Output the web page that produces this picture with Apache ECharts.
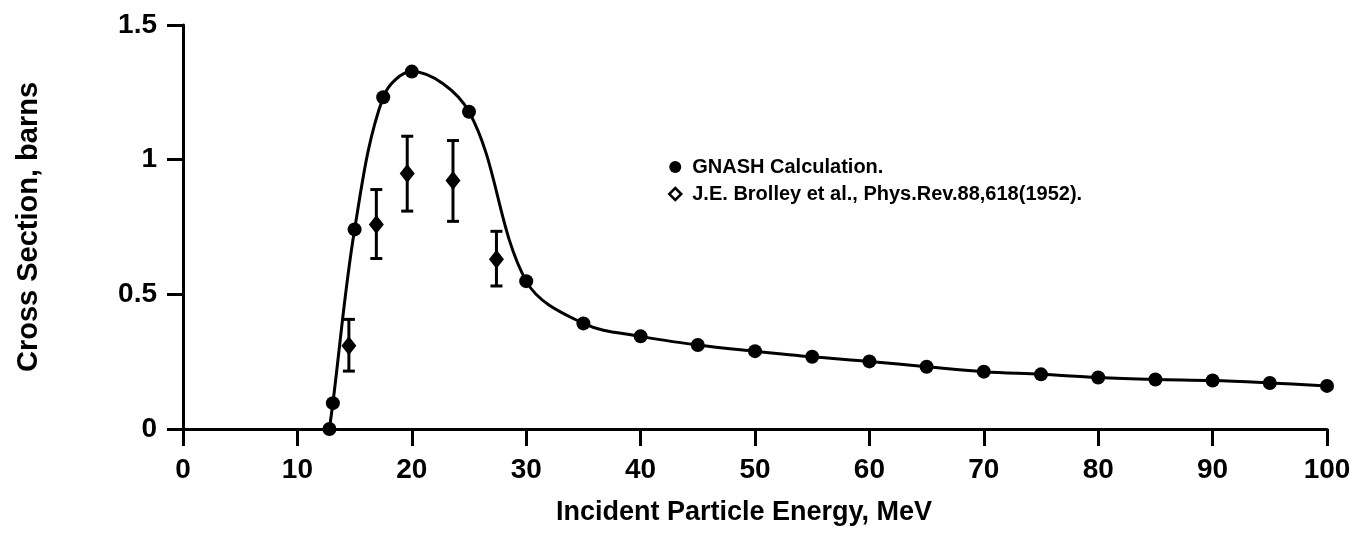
<!DOCTYPE html>
<html>
<head>
<meta charset="utf-8">
<script src="https://cdn.jsdelivr.net/npm/echarts@6/dist/echarts.min.js"></script>
<style>
  html, body { margin: 0; padding: 0; background: #fff; }
  #chart { width: 1363px; height: 534px; }
</style>
</head>
<body>
<div id="chart"></div>
<script>
// GNASH calculation (points on the curve), energy in MeV, cross section in barns
const gnashEnergy = [12.8, 13.1, 15, 17.5, 20, 25, 30, 35, 40, 45, 50, 55, 60, 65, 70, 75, 80, 85, 90, 95, 100]
const gnashSigma = [0, 0.096, 0.741, 1.232, 1.327, 1.178, 0.549, 0.392, 0.344, 0.312, 0.289, 0.268, 0.251, 0.231, 0.213, 0.203, 0.191, 0.184, 0.18, 0.171, 0.16]

// J.E. Brolley et al. measurements with error bars
const expEnergy = [14.5, 16.9, 19.6, 23.6, 27.4]
const expSigma = [0.309, 0.759, 0.949, 0.923, 0.63]
const expLow = [0.215, 0.633, 0.809, 0.771, 0.531]
const expHigh = [0.407, 0.889, 1.087, 1.071, 0.734]

const xTicks = [0, 10, 20, 30, 40, 50, 60, 70, 80, 90, 100]
const yTicks = [0, 0.5, 1, 1.5]

const nameGnash = 'GNASH Calculation.'
const nameExp = 'J.E. Brolley et al., Phys.Rev.88,618(1952).'

const font = 'Liberation Sans'
const chart = echarts.init(document.getElementById('chart'))

const option = {
  backgroundColor: '#fff',
  animation: false,
  grid: { left: 183, right: 36, top: 25, bottom: 105 },
  legend: {
    orient: 'vertical',
    left: 663,
    top: 152,
    itemGap: 7,
    itemWidth: 12,
    itemHeight: 12,
    textStyle: {
      fontFamily: font, fontWeight: 'bold', fontSize: 20, lineHeight: 20, color: '#000',
      padding: [0, 0, 0, 6]
    },
    data: [
      { name: nameGnash, icon: 'circle', itemStyle: { color: '#000' } },
      { name: nameExp, icon: 'diamond', itemStyle: { color: '#fff', borderColor: '#000', borderWidth: 2.5 } }
    ]
  },
  xAxis: {
    type: 'value',
    min: xTicks[0],
    max: xTicks[xTicks.length - 1],
    interval: 10,
    name: 'Incident Particle Energy, MeV',
    nameLocation: 'middle',
    nameGap: 70,
    nameTextStyle: { fontFamily: font, fontWeight: 'bold', fontSize: 27, color: '#000', padding: [0, 22, 0, 0] },
    axisLine: { lineStyle: { color: '#000', width: 3 } },
    axisTick: { length: 17, lineStyle: { color: '#000', width: 3 } },
    axisLabel: { fontFamily: font, fontWeight: 'bold', fontSize: 28, color: '#000', margin: 27 },
    splitLine: { show: false }
  },
  yAxis: {
    type: 'value',
    min: yTicks[0],
    max: yTicks[yTicks.length - 1],
    interval: 0.5,
    name: 'Cross Section, barns',
    nameLocation: 'middle',
    nameRotate: 90,
    nameGap: 140,
    nameTextStyle: { fontFamily: font, fontWeight: 'bold', fontSize: 29, color: '#000' },
    axisLine: { show: true, lineStyle: { color: '#000', width: 3 } },
    axisTick: { show: true, length: 16, lineStyle: { color: '#000', width: 3 } },
    axisLabel: {
      fontFamily: font, fontWeight: 'bold', fontSize: 28, color: '#000', margin: 26,
      formatter: v => String(v)
    },
    splitLine: { show: false }
  },
  series: [
    {
      name: nameGnash,
      type: 'line',
      smooth: 0.35,
      symbol: 'circle',
      symbolSize: 14,
      itemStyle: { color: '#000' },
      lineStyle: { color: '#000', width: 3 },
      data: gnashEnergy.map((e, i) => [e, gnashSigma[i]]),
      z: 3
    },
    {
      name: 'errorbars',
      type: 'custom',
      data: expEnergy.map((e, i) => [e, expLow[i], expHigh[i]]),
      renderItem: (params, api) => {
        const e = api.value(0)
        const lo = api.coord([e, api.value(1)])
        const hi = api.coord([e, api.value(2)])
        const cap = 6
        const style = { stroke: '#000', lineWidth: 3 }
        return {
          type: 'group',
          children: [
            { type: 'line', shape: { x1: lo[0], y1: lo[1], x2: hi[0], y2: hi[1] }, style },
            { type: 'line', shape: { x1: hi[0] - cap, y1: hi[1], x2: hi[0] + cap, y2: hi[1] }, style },
            { type: 'line', shape: { x1: lo[0] - cap, y1: lo[1], x2: lo[0] + cap, y2: lo[1] }, style }
          ]
        }
      },
      z: 2
    },
    {
      name: nameExp,
      type: 'scatter',
      symbol: 'diamond',
      symbolSize: [15, 19],
      itemStyle: { color: '#000', opacity: 1 },
      data: expEnergy.map((e, i) => [e, expSigma[i]]),
      z: 4
    }
  ]
}
chart.setOption(option)
</script>
</body>
</html>
